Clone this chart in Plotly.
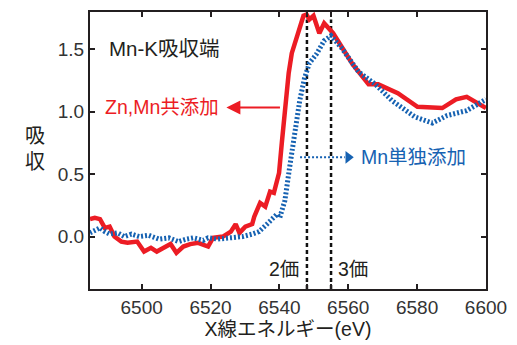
import plotly.graph_objects as go

# Zn,Mn co-doped (red)
red_x = [6485.0, 6486.4, 6487.9, 6489.3, 6490.7, 6492.1, 6494.1, 6495.9, 6498.7, 6500.7,
         6502.7, 6504.4, 6506.4, 6508.4, 6510.1, 6512.1, 6514.1, 6516.4, 6519.3, 6520.7,
         6523.6, 6525.9, 6527.3, 6528.4, 6530.1, 6532.1, 6532.7, 6534.4, 6535.9, 6537.3,
         6538.4, 6539.9, 6540.7, 6541.6, 6542.7, 6543.6, 6545.0, 6545.9, 6547.0, 6547.9,
         6548.7, 6549.9, 6550.7, 6551.6, 6553.0, 6554.4, 6555.6, 6561.3, 6565.9, 6568.7,
         6574.4, 6580.1, 6587.3, 6591.3, 6594.4, 6600.0]
red_y = [0.14, 0.15, 0.14, 0.07, 0.08, 0.00, -0.04, -0.05, -0.04, -0.12,
         -0.09, -0.12, -0.09, -0.06, -0.13, -0.08, -0.06, -0.05, -0.08, -0.01,
         0.00, 0.04, 0.10, 0.03, 0.08, 0.10, 0.16, 0.27, 0.24, 0.36,
         0.35, 0.51, 0.75, 1.01, 1.31, 1.47, 1.60, 1.67, 1.77, 1.78,
         1.74, 1.77, 1.70, 1.63, 1.71, 1.66, 1.63, 1.38, 1.22, 1.22,
         1.15, 1.04, 1.03, 1.10, 1.12, 1.03]

# Mn only (blue)
blue_x = [6485.0, 6486.4, 6487.9, 6489.3, 6490.7, 6493.0, 6495.0, 6497.0, 6499.3, 6502.1,
          6505.0, 6507.9, 6510.7, 6513.0, 6515.0, 6517.9, 6519.3, 6522.1, 6525.0, 6529.3,
          6532.1, 6534.1, 6536.4, 6539.3, 6540.1, 6541.6, 6543.0, 6544.4, 6545.9, 6547.3,
          6548.7, 6550.7, 6553.0, 6555.0, 6557.3, 6558.4, 6563.0, 6567.9, 6572.7, 6579.3,
          6584.4, 6588.7, 6594.4, 6600.0]
blue_y = [0.03, 0.05, 0.07, 0.04, 0.02, 0.03, 0.00, 0.02, 0.00, 0.01,
          -0.02, -0.01, -0.04, -0.02, -0.01, -0.03, -0.01, -0.02, -0.01, 0.00,
          0.02, 0.04, 0.10, 0.18, 0.15, 0.29, 0.56, 0.83, 1.09, 1.27,
          1.39, 1.46, 1.57, 1.61, 1.54, 1.50, 1.32, 1.22, 1.09, 0.96,
          0.91, 0.97, 1.01, 1.10]

x_ticks = [6500, 6520, 6540, 6548, 6555, 6560, 6580, 6600]
x_labels = ["6500", "6520", "6540", "", "", "6560", "6580", "6600"]
y_ticks = [0.0, 0.5, 1.0, 1.5]
y_labels = ["0.0", "0.5", "1.0", "1.5"]
valence_x = [6548, 6555]
valence_labels = ["2価", "3価"]

RED = "#ec1c24"
BLUE = "#1662b2"
TXT = "#231f20"
FONT = "Liberation Sans, Noto Sans CJK JP"

fig = go.Figure()
# dashed valence lines
for vx in valence_x:
    fig.add_trace(go.Scatter(x=[vx, vx], y=[-0.42, 1.74], mode="lines",
                             line=dict(color="#111", width=2.5, dash="4px,3px"),
                             showlegend=False, hoverinfo="skip"))
fig.add_trace(go.Scatter(x=red_x, y=red_y, mode="lines",
                         line=dict(color=RED, width=4.5), showlegend=False))
fig.add_trace(go.Scatter(x=blue_x, y=blue_y, mode="lines",
                         line=dict(color=BLUE, width=5, dash="2px,2px"), showlegend=False))

# blue dotted arrow line + head
fig.add_trace(go.Scatter(x=[6546.0, 6559.0], y=[0.635, 0.635], mode="lines",
                         line=dict(color=BLUE, width=2, dash="2px,2px"),
                         showlegend=False, hoverinfo="skip"))
fig.add_trace(go.Scatter(x=[6560.0], y=[0.635], mode="markers",
                         marker=dict(symbol="triangle-right", size=11, color=BLUE),
                         showlegend=False, hoverinfo="skip"))

# red arrow
fig.add_annotation(x=6524.6, y=1.035, ax=6540.6, ay=1.035, axref="x", ayref="y",
                   xref="x", yref="y", text="", showarrow=True, arrowhead=2,
                   arrowsize=1.4, arrowwidth=2, arrowcolor=RED)

fig.add_annotation(x=6489.9, y=1.51, xref="x", yref="y", text="Mn-K吸収端",
                   showarrow=False, xanchor="left", font=dict(size=20.5, color=TXT, family=FONT))
fig.add_annotation(x=6488.7, y=1.035, xref="x", yref="y", text="Zn,Mn共添加",
                   showarrow=False, xanchor="left", font=dict(size=19.5, color=RED, family=FONT))
fig.add_annotation(x=6563.0, y=0.635, xref="x", yref="y", text="Mn単独添加",
                   showarrow=False, xanchor="left", font=dict(size=19.5, color=BLUE, family=FONT))
fig.add_annotation(x=valence_x[0] - 1.8, y=-0.26, xref="x", yref="y", text=valence_labels[0],
                   showarrow=False, xanchor="right", font=dict(size=19.5, color=TXT, family=FONT))
fig.add_annotation(x=valence_x[1] + 1.3, y=-0.26, xref="x", yref="y", text=valence_labels[1],
                   showarrow=False, xanchor="left", font=dict(size=19.5, color=TXT, family=FONT))

# y title (vertical stacked)
fig.add_annotation(x=-0.168, y=0.505, xref="paper", yref="paper", text="吸<br>収",
                   showarrow=False, font=dict(size=20, color=TXT, family=FONT))

fig.update_layout(
    width=517, height=345,
    margin=dict(l=90, r=25, t=10, b=55),
    paper_bgcolor="white", plot_bgcolor="white",
    font=dict(family=FONT, size=19, color=TXT),
    xaxis=dict(range=[6485, 6600], tickvals=x_ticks, ticktext=x_labels,
               ticks="inside", ticklen=5, tickwidth=1.5, tickcolor=TXT,
               showline=True, linecolor=TXT, linewidth=2, mirror="ticks",
               showgrid=False, zeroline=False, tickfont=dict(size=19, color="#333"),
               title=dict(text="X線エネルギー(eV)", standoff=4, font=dict(size=19.5))),
    yaxis=dict(range=[-0.42, 1.80], tickvals=y_ticks, ticktext=y_labels,
               ticks="inside", ticklen=5, tickwidth=1.5, tickcolor=TXT,
               showline=True, linecolor=TXT, linewidth=2, mirror="ticks",
               showgrid=False, zeroline=False, tickfont=dict(size=19, color="#333")),
)

fig.write_html("out.html", config={"displayModeBar": False},
               post_script="document.body.style.margin='0';")
